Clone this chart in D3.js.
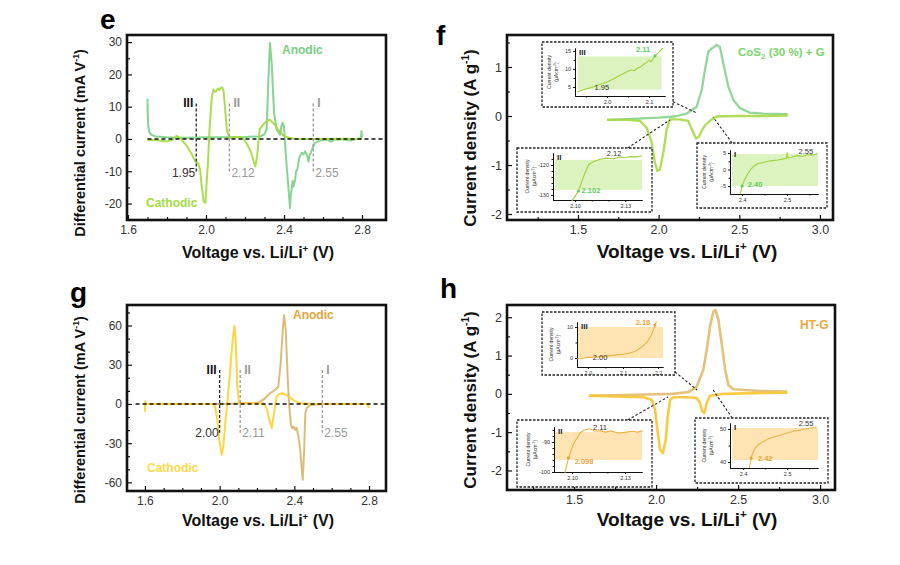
<!DOCTYPE html>
<html>
<head>
<meta charset="utf-8">
<script src="https://cdn.jsdelivr.net/npm/d3@7"></script>
<style>
  body { margin: 0; background: #fff; }
  text { font-family: "Liberation Sans", Arial, sans-serif; }
</style>
</head>
<body>
<svg id="chart" width="900" height="565"></svg>
<script>
// ---- data ----
// panel e: differential current (mA/V) vs voltage
var eAnodic = [[1.70,12.5],[1.701,8],[1.704,4],[1.71,2],[1.72,1.3],[1.74,0.8],[1.8,0.5],[1.9,0.4],[2.0,0.5],[2.1,0.5],[2.2,0.6],[2.28,0.8],[2.3,1.5],[2.311,3],[2.32,18.4],[2.328,29.7],[2.337,23.5],[2.349,8],[2.362,2.9],[2.379,1.3],[2.387,4],[2.393,5],[2.4,3.9],[2.41,-5.4],[2.422,-14.7],[2.431,-21.4],[2.435,-17],[2.439,-15.8],[2.444,-13],[2.448,-14.7],[2.456,-13.1],[2.462,-10],[2.468,-9.5],[2.48,-5.5],[2.491,-4.3],[2.5,-4.8],[2.508,-3.8],[2.518,-5],[2.525,-7],[2.531,-5],[2.537,-4.3],[2.548,-2.5],[2.559,-1.2],[2.585,-0.5],[2.62,-0.2],[2.64,-0.8],[2.66,-0.2],[2.7,-0.1],[2.74,-0.5],[2.77,0],[2.795,0.2],[2.797,2.5],[2.8,0.5]];
var eCathodic = [[1.70,-0.3],[1.75,-0.4],[1.80,-0.8],[1.83,-0.2],[1.85,1.0],[1.87,0.2],[1.88,-0.7],[1.90,-2],[1.93,-5],[1.945,-7],[1.96,-7.5],[1.97,-9.5],[1.976,-13.6],[1.988,-19.3],[1.997,-19.8],[2.0,-16.7],[2.01,-7.4],[2.018,2.9],[2.03,13.2],[2.039,15.3],[2.045,14.6],[2.052,14.8],[2.06,15.6],[2.069,15.2],[2.075,15.8],[2.083,16],[2.09,14.8],[2.097,10.1],[2.107,2.9],[2.12,0.3],[2.14,0.5],[2.172,0.6],[2.19,0.1],[2.207,-1.2],[2.22,-2.8],[2.232,-4.3],[2.246,-7.4],[2.253,-8.5],[2.262,-5.4],[2.275,2.9],[2.29,4.2],[2.301,5],[2.315,5.6],[2.328,6],[2.34,5.2],[2.354,4.4],[2.365,3.2],[2.379,2.4],[2.395,1.2],[2.413,0.6],[2.45,0.1],[2.5,0],[2.6,0],[2.7,0.1],[2.8,0]];
var eMarks = [{v:1.95, name:"III", text:"1.95", dark:true},{v:2.12, name:"II", text:"2.12"},{v:2.55, name:"I", text:"2.55"}];

// panel g
var gAnodic = [[1.6,0],[1.8,0],[2.0,0],[2.1,0.3],[2.2,0.8],[2.216,1.8],[2.243,4.3],[2.27,8.2],[2.297,10.7],[2.314,13.3],[2.327,31],[2.338,56.6],[2.345,68],[2.354,56.6],[2.365,18.4],[2.373,-2],[2.382,-16],[2.388,-18.5],[2.395,-17.3],[2.404,-19.9],[2.41,-18],[2.413,-18.6],[2.418,-22],[2.422,-25],[2.43,-32.7],[2.439,-48],[2.445,-58],[2.452,-38],[2.459,-7.2],[2.466,-3.3],[2.484,-0.8],[2.55,0],[2.7,0],[2.8,0]];
var gCathodic = [[1.6,-6],[1.602,2],[1.606,0],[1.7,0],[1.8,0],[1.9,0],[1.96,0],[1.975,-2],[1.988,-12],[1.998,-27.5],[2.011,-39],[2.02,-32.5],[2.032,-12],[2.041,0.5],[2.055,23.5],[2.068,46.4],[2.079,59.7],[2.086,49],[2.095,13],[2.104,0.5],[2.15,0.5],[2.2,0.3],[2.234,0.5],[2.252,-3.3],[2.266,-12],[2.279,-18.6],[2.291,-7.2],[2.305,5.6],[2.318,7.5],[2.332,8.2],[2.359,6.9],[2.395,3],[2.43,0.5],[2.5,0],[2.6,0],[2.7,0],[2.79,0],[2.8,-3]];
var gMarks = [{v:2.00, name:"III", text:"2.00", dark:true},{v:2.11, name:"II", text:"2.11"},{v:2.55, name:"I", text:"2.55"}];

// panel f: CV, CoS2 (30 %) + G
var fAnodic = [[1.68,-0.08],[1.8,-0.065],[1.9,-0.05],[2.0,-0.035],[2.1,-0.01],[2.174,0.05],[2.236,0.19],[2.267,0.53],[2.287,0.94],[2.308,1.31],[2.329,1.38],[2.345,1.41],[2.36,1.45],[2.38,1.41],[2.401,1.07],[2.432,0.6],[2.463,0.33],[2.504,0.16],[2.566,0.07],[2.65,0.05],[2.8,0.04]];
var fCathodic = [[2.8,0.01],[2.65,0.0],[2.504,0.0],[2.4,-0.005],[2.36,-0.01],[2.329,-0.07],[2.29,-0.18],[2.267,-0.3],[2.25,-0.42],[2.232,-0.46],[2.205,-0.27],[2.184,-0.1],[2.132,-0.07],[2.07,-0.07],[2.05,-0.27],[2.029,-0.75],[2.008,-1.09],[1.992,-1.12],[1.977,-0.95],[1.957,-0.54],[1.926,-0.24],[1.884,-0.1],[1.8,-0.08],[1.68,-0.08]];
var fInsetIII = [[1.929,3.6],[1.945,4.3],[1.967,5],[1.98,5.6],[2.0,6.4],[2.015,7.2],[2.03,8.2],[2.038,8.6],[2.05,9.4],[2.059,9.7],[2.065,9.5],[2.072,10.2],[2.079,10.5],[2.088,11.3],[2.095,11.9],[2.1,12.4],[2.105,12.0],[2.11,12.8],[2.114,13.6],[2.125,14.8],[2.133,15.8]];
var fInsetII = [[2.098,-132],[2.1,-130.5],[2.102,-128.7],[2.105,-124],[2.108,-120],[2.11,-119.2],[2.112,-118.7],[2.115,-118.1],[2.119,-117.7],[2.123,-117.9],[2.127,-117.3],[2.13,-117.6],[2.133,-117.2],[2.137,-117.3],[2.14,-117.0]];
var fInsetI = [[2.396,-7.3],[2.40,-5],[2.405,-3.2],[2.413,-1.2],[2.42,0.2],[2.428,1.2],[2.436,1.8],[2.446,2.1],[2.455,2.4],[2.468,2.7],[2.48,2.9],[2.495,3.3],[2.499,3.4],[2.5,5.2],[2.502,3.6],[2.51,3.7],[2.523,4.2],[2.535,4.0],[2.545,4.4],[2.553,4.5],[2.56,4.4],[2.567,4.9]];

// panel h: CV, HT-G
var hAnodic = [[1.59,-0.05],[1.8,-0.03],[2.0,-0.01],[2.1,0.0],[2.2,0.05],[2.248,0.19],[2.288,0.63],[2.309,1.15],[2.329,1.76],[2.349,2.15],[2.362,2.19],[2.38,1.93],[2.4,1.32],[2.421,0.63],[2.441,0.23],[2.471,0.12],[2.614,0.08],[2.8,0.06]];
var hCathodic = [[2.8,0.03],[2.6,0.02],[2.41,0.0],[2.329,-0.05],[2.309,-0.24],[2.294,-0.5],[2.282,-0.46],[2.268,-0.24],[2.248,-0.11],[2.187,-0.09],[2.106,-0.09],[2.085,-0.16],[2.071,-0.59],[2.059,-1.2],[2.041,-1.55],[2.024,-1.46],[2.008,-0.94],[1.994,-0.42],[1.974,-0.16],[1.923,-0.09],[1.59,-0.05]];
var hInsetIII = [[1.969,-0.3],[1.99,0],[2.0,0.2],[2.026,0.3],[2.05,0.6],[2.083,1],[2.1,1.2],[2.12,1.6],[2.135,2.2],[2.149,3.2],[2.16,4.2],[2.169,5.2],[2.176,6.4],[2.183,8],[2.188,9.5],[2.191,10.6],[2.196,11.8]];
var hInsetII = [[2.096,-100.3],[2.098,-95.3],[2.1006,-91],[2.103,-88.5],[2.1045,-87],[2.107,-86],[2.11,-85.6],[2.113,-86.4],[2.116,-86.2],[2.119,-86.7],[2.122,-86.3],[2.126,-87],[2.13,-86.8],[2.134,-86.4],[2.137,-86.7],[2.14,-86.3]];
var hInsetI = [[2.414,38.2],[2.418,41.2],[2.422,42.8],[2.427,44.2],[2.435,45.3],[2.443,46],[2.455,46.9],[2.468,47.5],[2.485,48.2],[2.5,48.8],[2.515,49.3],[2.53,49.7],[2.55,50.2],[2.567,50.6]];

// ticks
var dqTicksX = [1.6, 2.0, 2.4, 2.8], dqMinorX = [1.7,1.8,1.9,2.1,2.2,2.3,2.5,2.6,2.7];
var eTicksY = [-20,-10,0,10,20,30], eMinorY = [-25,-15,-5,5,15,25];
var gTicksY = [-60,-30,0,30,60], gMinorY = [-50,-40,-20,-10,10,20,40,50,70];
var cvTicksX = [1.5, 2.0, 2.5, 3.0], cvMinorX = [1.25,1.75,2.25,2.75];
var cvTicksY = [-2,-1,0,1,2], cvMinorY = [-2.5,-1.5,-0.5,0.5,1.5];

var svg = d3.select("#chart");
var black = "#111";
var plain = function(d) { return String(d); };

function addTitleX(cx, by, size) {
	var t = svg.append("text").attr("x", cx).attr("y", by).attr("text-anchor", "middle")
		.attr("font-weight", "bold").attr("font-size", size).attr("fill", black);
	t.append("tspan").text("Voltage vs. Li/Li");
	t.append("tspan").text("+").attr("dy", -size * 0.4).attr("font-size", size * 0.6);
	t.append("tspan").text(" (V)").attr("dy", size * 0.4);
}

function addTitleY(main, sup, cx, cy, size) {
	var t = svg.append("text").attr("transform", "translate(" + cx + "," + cy + ") rotate(-90)")
		.attr("text-anchor", "middle").attr("font-weight", "bold").attr("font-size", size).attr("fill", black);
	t.append("tspan").text(main);
	t.append("tspan").text(sup).attr("dy", -size * 0.4).attr("font-size", size * 0.6);
	t.append("tspan").text(")").attr("dy", size * 0.4);
}

function panel(p) {
	var f = p.frame;
	var x = d3.scaleLinear().domain(p.xDom).range([f[0], f[2]]);
	var y = d3.scaleLinear().domain(p.yDom).range([f[3], f[1]]);
	var g = svg.append("g");
	var inY = function(v) { return v > p.yDom[0] && v < p.yDom[1]; };

	function axisStyle(a) {
		a.select(".domain").remove();
		a.selectAll("line").attr("stroke", black).attr("stroke-width", 1.2);
		a.selectAll("text").attr("font-size", p.tickSize || 12).attr("fill", "#333");
	}
	g.append("g").attr("transform", "translate(0," + f[3] + ")")
		.call(d3.axisBottom(x).tickValues(p.xTicks).tickSize(-5).tickPadding(5).tickFormat(d3.format(".1f"))).call(axisStyle);
	g.append("g").attr("transform", "translate(0," + f[3] + ")")
		.call(d3.axisBottom(x).tickValues(p.xMinor).tickSize(-3).tickFormat("")).call(axisStyle);
	g.append("g").attr("transform", "translate(" + f[0] + ",0)")
		.call(d3.axisLeft(y).tickValues(p.yTicks.filter(inY)).tickSize(-5).tickPadding(5).tickFormat(plain)).call(axisStyle);
	g.append("g").attr("transform", "translate(" + f[0] + ",0)")
		.call(d3.axisLeft(y).tickValues(p.yMinor.filter(inY)).tickSize(-3).tickFormat("")).call(axisStyle);

	var line = d3.line().x(function(d) { return x(d[0]); }).y(function(d) { return y(d[1]); });
	p.series.forEach(function(s) {
		g.append("path").datum(s.data).attr("d", line).attr("fill", "none")
			.attr("stroke", s.color).attr("stroke-width", s.width || 2).attr("stroke-opacity", 0.9)
			.attr("stroke-linejoin", "round");
	});

	if (p.zero) {
		g.append("line").attr("x1", x(p.zero[0])).attr("x2", x(p.zero[1])).attr("y1", y(0)).attr("y2", y(0))
			.attr("stroke", black).attr("stroke-width", 1.4).attr("stroke-dasharray", "4,3");
	}
	if (p.marks) {
		p.marks.forEach(function(m) {
			var c = m.dark ? "#222" : "#9a9a9a";
			g.append("line").attr("x1", x(m.v)).attr("x2", x(m.v)).attr("y1", y(p.markTop)).attr("y2", y(p.markBot))
				.attr("stroke", c).attr("stroke-width", 1.3).attr("stroke-dasharray", "3,2");
			g.append("text").attr("x", x(m.v) + (m.dark ? -3 : 4)).attr("y", y(p.markTop) + 4)
				.attr("text-anchor", m.dark ? "end" : "start").attr("font-weight", "bold").attr("font-size", 12)
				.attr("fill", m.dark ? "#111" : "#999").text(m.name);
			g.append("text").attr("x", x(m.v) + (m.dark ? -1 : 2)).attr("y", y(p.markBot) + 4)
				.attr("text-anchor", m.dark ? "end" : "start").attr("font-size", 12)
				.attr("fill", m.dark ? "#333" : "#999").text(m.text);
		});
	}
	(p.notes || []).forEach(function(n) {
		var t = g.append("text").attr("x", n.x).attr("y", n.y).attr("font-weight", "bold")
			.attr("font-size", n.size || 12).attr("fill", n.color);
		n.parts.forEach(function(pt) {
			var ts = t.append("tspan").text(pt[0]);
			if (pt[1]) ts.attr("dy", pt[1]).attr("font-size", pt[2] || null);
		});
	});
	p.x = x; p.y = y; p.g = g;
	return p;
}

function frameOn(p) {
	var f = p.frame;
	p.g.append("rect").attr("x", f[0]).attr("y", f[1]).attr("width", f[2] - f[0]).attr("height", f[3] - f[1])
		.attr("fill", "none").attr("stroke", black).attr("stroke-width", 2.6);
}

function inset(p, q) {
	var b = q.box, pl = q.plot;
	var g = p.g.append("g");
	// leader line to the main curve
	g.append("line").attr("x1", b[0] + q.from[0] * (b[2] - b[0])).attr("y1", b[1] + q.from[1] * (b[3] - b[1]))
		.attr("x2", p.x(q.to[0])).attr("y2", p.y(q.to[1]))
		.attr("stroke", "#222").attr("stroke-width", 1.1).attr("stroke-dasharray", "2.5,2");
	g.append("rect").attr("x", b[0]).attr("y", b[1]).attr("width", b[2] - b[0]).attr("height", b[3] - b[1])
		.attr("fill", "#fff").attr("stroke", "#222").attr("stroke-width", 1.3).attr("stroke-dasharray", "2.5,1.5");
	var x = d3.scaleLinear().domain(q.xDom).range([pl[0], pl[2]]);
	var y = d3.scaleLinear().domain(q.yDom).range([pl[3], pl[1]]);
	g.append("rect").attr("x", x(q.shadeX[0])).attr("y", y(q.shadeY[1]))
		.attr("width", x(q.shadeX[1]) - x(q.shadeX[0])).attr("height", y(q.shadeY[0]) - y(q.shadeY[1]))
		.attr("fill", q.shade);
	function st(a) {
		a.selectAll("path,line").attr("stroke", "#111").attr("stroke-width", 1);
		a.selectAll("text").attr("font-size", 5.5).attr("fill", "#333");
	}
	g.append("g").attr("transform", "translate(0," + pl[3] + ")")
		.call(d3.axisBottom(x).tickValues(q.xTicks).tickSize(2).tickSizeOuter(0).tickPadding(2).tickFormat(d3.format(q.fmt))).call(st);
	g.append("g").attr("transform", "translate(0," + pl[3] + ")")
		.call(d3.axisBottom(x).tickValues(q.xMinor).tickSize(1.5).tickSizeOuter(0).tickFormat("")).call(st);
	g.append("g").attr("transform", "translate(" + pl[0] + ",0)")
		.call(d3.axisLeft(y).tickValues(q.yTicks).tickSize(2).tickSizeOuter(0).tickPadding(2).tickFormat(plain)).call(st);
	g.append("g").attr("transform", "translate(" + pl[0] + ",0)")
		.call(d3.axisLeft(y).tickValues(q.yMinor).tickSize(1.5).tickSizeOuter(0).tickFormat("")).call(st);
	var line = d3.line().x(function(d) { return x(d[0]); }).y(function(d) { return y(d[1]); });
	g.append("path").datum(q.data).attr("d", line).attr("fill", "none").attr("stroke", q.color).attr("stroke-width", 1.1);
	g.append("circle").attr("cx", x(q.marker[0])).attr("cy", y(q.marker[1])).attr("r", 1.6).attr("fill", q.hiColor);
	g.append("text").attr("x", pl[0] + 4).attr("y", pl[1] + 7).attr("font-weight", "bold").attr("font-size", 8)
		.attr("fill", "#222").text(q.roman);
	g.append("text").attr("x", x(q.hi[1])).attr("y", y(q.hi[2])).attr("text-anchor", "middle")
		.attr("font-weight", "bold").attr("font-size", 7.5).attr("fill", q.hiColor).text(q.hi[0]);
	g.append("text").attr("x", x(q.lo[1])).attr("y", y(q.lo[2])).attr("text-anchor", "middle")
		.attr("font-size", 7.5).attr("fill", "#333").text(q.lo[0]);
	var cy = (pl[1] + pl[3]) / 2;
	var t = g.append("text").attr("transform", "translate(" + (pl[0] - 24) + "," + cy + ") rotate(-90)")
		.attr("text-anchor", "middle").attr("font-size", 5).attr("fill", "#333");
	t.append("tspan").attr("x", 0).text("Current density");
	t.append("tspan").attr("x", 0).attr("dy", 7).text("(\u03bcAcm");
	t.append("tspan").attr("dy", -2).attr("font-size", 3.5).text("-2");
	t.append("tspan").attr("dy", 2).text(")");
}

// ---- panel e ----
var pe = panel({
	frame: [127, 35, 386, 220], xDom: [1.595, 2.923], yDom: [-25.1, 32.2],
	xTicks: dqTicksX, xMinor: dqMinorX, yTicks: eTicksY, yMinor: eMinorY,
	series: [{data: eAnodic, color: "#79cf85"}, {data: eCathodic, color: "#a3d93c"}],
	zero: [1.7, 2.92], marks: eMarks, markTop: 11, markBot: -10.5,
	notes: [{x: 282, y: 54, color: "#77cf7f", parts: [["Anodic"]]},
	        {x: 146, y: 207, color: "#a5dc40", parts: [["Cathodic"]]}]
});
frameOn(pe);

// ---- panel g ----
var pg = panel({
	frame: [127, 305, 386, 491], xDom: [1.504, 2.891], yDom: [-66.6, 75.7],
	xTicks: dqTicksX, xMinor: dqMinorX, yTicks: gTicksY, yMinor: gMinorY,
	series: [{data: gAnodic, color: "#d8b56c"}, {data: gCathodic, color: "#ffd02a"}],
	zero: [1.55, 2.89], marks: gMarks, markTop: 26, markBot: -22,
	notes: [{x: 293, y: 319, color: "#e3a63a", parts: [["Anodic"]]},
	        {x: 147, y: 472, color: "#ffd84a", parts: [["Cathodic"]]}]
});
frameOn(pg);

// ---- panel f ----
var pf = panel({
	frame: [507, 35, 833, 220], xDom: [1.06, 3.081], yDom: [-2.122, 1.653], tickSize: 12.5,
	xTicks: cvTicksX, xMinor: cvMinorX, yTicks: cvTicksY, yMinor: cvMinorY,
	series: [{data: fAnodic, color: "#86d38e", width: 2.3}, {data: fCathodic, color: "#a6d944", width: 2.3}],
	notes: [{x: 738, y: 56, size: 11.5, color: "#7bd36c", parts: [["CoS"], ["2", 3, 8], [" (30 %) + G", -3, 11.5]]}]
});
inset(pf, {box: [542, 42, 673, 107], plot: [575, 48, 665, 96], xDom: [1.924, 2.138], yDom: [2.5, 15.8],
	xTicks: [2.0, 2.1], xMinor: [1.95, 2.05], yTicks: [5, 10, 15], yMinor: [7.5, 12.5], fmt: ".1f",
	shadeX: [1.93, 2.13], shadeY: [4.3, 13.5], shade: "#dcf2bf", data: fInsetIII, color: "#9ed33a",
	marker: [2.114, 13.6], hiColor: "#62cc5e", roman: "III", hi: ["2.11", 2.086, 14.7], lo: ["1.95", 1.988, 4.2],
	from: [1, 0.92], to: [2.238, 0.06]});
inset(pf, {box: [517, 148, 652, 212], plot: [553, 153, 642, 200], xDom: [2.0868, 2.140], yDom: [-131.7, -116],
	xTicks: [2.10, 2.13], xMinor: [2.11, 2.12], yTicks: [-120, -130], yMinor: [-128, -126, -124, -122, -118], fmt: ".2f",
	shadeX: [2.088, 2.14], shadeY: [-128.3, -118.3], shade: "#dcf2bf", data: fInsetII, color: "#9ed33a",
	marker: [2.102, -128.7], hiColor: "#62cc5e", roman: "II", hi: ["2.102", 2.1095, -129.4], lo: ["2.12", 2.1233, -117.0],
	from: [0.82, 0], to: [2.07, -0.08]});
inset(pf, {box: [697, 143, 827, 208], plot: [730, 150, 818, 194], xDom: [2.373, 2.569], yDom: [-7.4, 5.9],
	xTicks: [2.4, 2.5], xMinor: [2.45, 2.55], yTicks: [-5, 0, 5], yMinor: [-2.5, 2.5], fmt: ".1f",
	shadeX: [2.377, 2.569], shadeY: [-5, 4.7], shade: "#dcf2bf", data: fInsetI, color: "#9ed33a",
	marker: [2.40, -5], hiColor: "#62cc5e", roman: "I", hi: ["2.40", 2.429, -5.3], lo: ["2.55", 2.542, 4.7],
	from: [0.27, 0], to: [2.337, -0.02]});
frameOn(pf);

// ---- panel h ----
var ph = panel({
	frame: [507, 305, 835, 490], xDom: [1.091, 3.091], yDom: [-2.51, 2.32], tickSize: 12.5,
	xTicks: cvTicksX, xMinor: cvMinorX, yTicks: cvTicksY, yMinor: cvMinorY,
	series: [{data: hAnodic, color: "#e0bb6c", width: 2.6}, {data: hCathodic, color: "#f8c530", width: 2.6}],
	notes: [{x: 800, y: 329, color: "#e8a83a", parts: [["HT-G"]]}]
});
inset(ph, {box: [542, 312, 675, 375], plot: [577, 322, 663, 367], xDom: [1.969, 2.214], yDom: [-2.9, 11.6],
	xTicks: [2.0, 2.1, 2.2], xMinor: [2.05, 2.15], yTicks: [0, 10], yMinor: [5], fmt: ".1f",
	shadeX: [1.972, 2.214], shadeY: [0, 10], shade: "#fde4b2", data: hInsetIII, color: "#e8b444",
	marker: [2.191, 10.6], hiColor: "#e6a53a", roman: "III", hi: ["2.18", 2.157, 10.6], lo: ["2.00", 2.035, -0.64],
	from: [1, 0.95], to: [2.25, 0.1]});
inset(ph, {box: [517, 420, 652, 487], plot: [554, 427, 642, 472], xDom: [2.0898, 2.1396], yDom: [-100, -85],
	xTicks: [2.10, 2.13], xMinor: [2.11, 2.12], yTicks: [-90, -100], yMinor: [-98, -96, -94, -92, -88, -86], fmt: ".2f",
	shadeX: [2.0903, 2.1396], shadeY: [-96, -86.7], shade: "#fde4b2", data: hInsetII, color: "#e8b444",
	marker: [2.098, -95.3], hiColor: "#e6a53a", roman: "II", hi: ["2.098", 2.1068, -97.3], lo: ["2.11", 2.1158, -86],
	from: [0.82, 0], to: [2.073, -0.08]});
inset(ph, {box: [695, 418, 828, 483], plot: [730, 423, 818, 468], xDom: [2.37, 2.57], yDom: [38.2, 51.8],
	xTicks: [2.4, 2.5], xMinor: [2.45, 2.55], yTicks: [40, 50], yMinor: [45], fmt: ".1f",
	shadeX: [2.375, 2.57], shadeY: [40.6, 50.3], shade: "#fde4b2", data: hInsetI, color: "#e8b444",
	marker: [2.418, 41.2], hiColor: "#e6a53a", roman: "I", hi: ["2.42", 2.45, 40.3], lo: ["2.55", 2.543, 50.9],
	from: [0.28, 0], to: [2.348, 0.1]});
frameOn(ph);

// ---- titles and panel letters ----
addTitleX(258, 258, 16);
addTitleX(258, 526, 16);
addTitleX(687, 258, 19);
addTitleX(687, 526, 19);
addTitleY("Differential current (mA V", "-1", 85, 143, 14.5);
addTitleY("Differential current (mA V", "-1", 85, 410, 14.5);
addTitleY("Current density (A g", "-1", 476, 138, 17);
addTitleY("Current density (A g", "-1", 476, 400, 17);

[["e", 100, 29], ["f", 436, 45], ["g", 70, 302], ["h", 440, 298]].forEach(function(l) {
	svg.append("text").attr("x", l[1]).attr("y", l[2]).attr("font-weight", "bold").attr("font-size", 28)
		.attr("fill", "#000").text(l[0]);
});
</script>
</body>
</html>
